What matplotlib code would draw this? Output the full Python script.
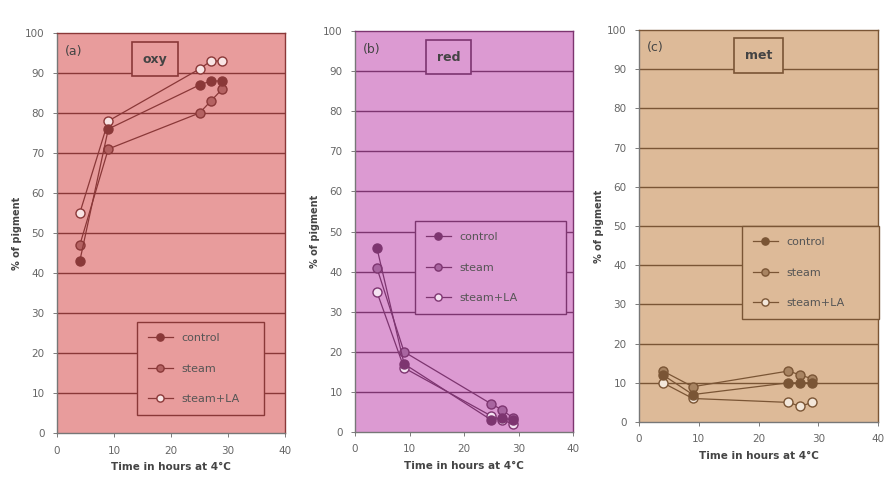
import matplotlib
matplotlib.use('Agg')
import matplotlib.pyplot as plt

hours = [4, 9, 25, 27, 29]

oxy_control = [43, 76, 87, 88, 88]
oxy_steam = [47, 71, 80, 83, 86]
oxy_steam_la = [55, 78, 91, 93, 93]

red_control = [46, 17, 3, 3.5, 3]
red_steam = [41, 20, 7, 5.5, 3.5]
red_steam_la = [35, 16, 4, 3, 2]

met_control = [12, 7, 10, 10, 10]
met_steam = [13, 9, 13, 12, 11]
met_steam_la = [10, 6, 5, 4, 5]

series_names = ['control', 'steam', 'steam+LA']
panel_tags = ['(a)', '(b)', '(c)']
panel_titles = ['oxy', 'red', 'met']

W, H = 885, 479

# pixel boxes (left, right, top, bottom)
boxes = [(57, 285, 33, 433), (355, 573, 31, 432), (639, 878, 30, 422)]
faces = ['#e89c9c', '#dc9ad2', '#ddba98']
darks = ['#8a3838', '#7d3570', '#7a5535']
mids = ['#b46262', '#a865a0', '#a88462']
lights = ['#f8e4e4', '#f4e2f1', '#f3e7da']
title_x = [0.43, 0.43, 0.50]
legend_boxes = [(137, 264, 322, 418), (415, 566, 221, 319), (742, 879, 226, 324)]

data = [
    (oxy_control, oxy_steam, oxy_steam_la),
    (red_control, red_steam, red_steam_la),
    (met_control, met_steam, met_steam_la),
]

fig = plt.figure(figsize=(W / 100, H / 100), dpi=100)

for i in range(3):
    l, r, t, b = boxes[i]
    ax = fig.add_axes([l / W, 1 - b / H, (r - l) / W, (b - t) / H])
    ax.set_facecolor(faces[i])
    dark, mid, light = darks[i], mids[i], lights[i]

    for yv in range(10, 100, 10):
        ax.axhline(yv, color=dark, lw=1.0, zorder=1)

    ctrl, stm, stla = data[i]
    ax.plot(hours, ctrl, '-o', color=dark, mfc=dark, mec=dark, ms=6.5, lw=0.9,
            label=series_names[0], zorder=4)
    ax.plot(hours, stm, '-o', color=dark, mfc=mid, mec=dark, ms=6.5, lw=0.9,
            label=series_names[1], zorder=3)
    ax.plot(hours, stla, '-o', color=dark, mfc=light, mec=dark, ms=6.5, lw=0.9,
            label=series_names[2], zorder=3)

    ax.set_xlim(0, 40)
    ax.set_ylim(0, 100)
    ax.set_xticks([0, 10, 20, 30, 40])
    ax.set_yticks(range(0, 101, 10))
    ax.tick_params(labelsize=7.5, colors='#666666', length=3, width=0.6, pad=6)
    for side in ['left', 'bottom']:
        ax.spines[side].set_color('#777777')
        ax.spines[side].set_linewidth(1.0)
    for side in ['right', 'top']:
        ax.spines[side].set_color(dark)
        ax.spines[side].set_linewidth(1.0)

    ax.set_xlabel('Time in hours at 4\u00b0C', fontsize=7.5, fontweight='bold',
                  color='#444444', labelpad=5)
    ax.set_ylabel('% of pigment', fontsize=7, fontweight='bold',
                  color='#444444', labelpad=2)

    ax.text(0.035, 0.955, panel_tags[i], transform=ax.transAxes, fontsize=9,
            color='#444444', va='center', ha='left')
    ax.text(title_x[i], 0.935, panel_titles[i], transform=ax.transAxes,
            fontsize=9, fontweight='bold', color='#444444', ha='center',
            va='center',
            bbox=dict(boxstyle='square,pad=0.85', fc=faces[i], ec=dark, lw=1.2))

    lx0, lx1, ly0, ly1 = legend_boxes[i]
    bbox = ((lx0 - l) / (r - l), (b - ly1) / (b - t),
            (lx1 - lx0) / (r - l), (ly1 - ly0) / (b - t))
    leg = ax.legend(loc='upper left', bbox_to_anchor=bbox, mode='expand',
                    fontsize=8, frameon=True, fancybox=False,
                    borderaxespad=0, labelspacing=1.85, handlelength=2.2,
                    borderpad=1.0, markerscale=0.8)
    leg.get_frame().set_facecolor(faces[i])
    leg.get_frame().set_edgecolor(dark)
    leg.get_frame().set_linewidth(1.0)
    leg.get_frame().set_alpha(1)
    for txt in leg.get_texts():
        txt.set_color('#555555')

fig.savefig('out.png', dpi=100)
